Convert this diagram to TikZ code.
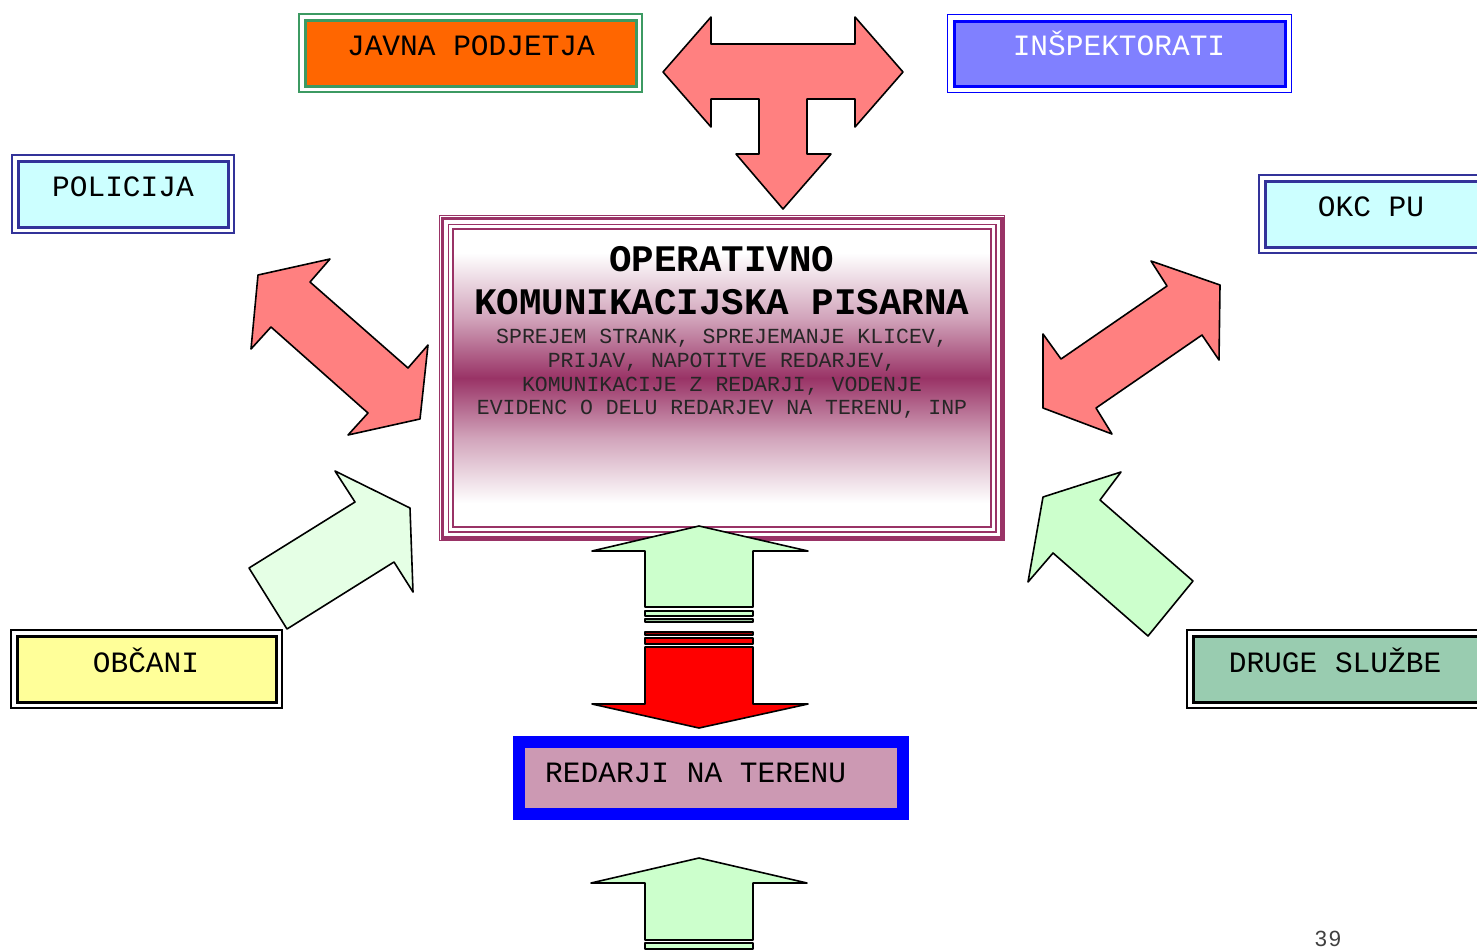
\documentclass[tikz,border=0pt]{standalone}
\usepackage{fontspec}
\newfontfamily\cour{Liberation Mono}
\newfontfamily\arl{Liberation Sans}
\definecolor{kmaroon}{HTML}{993366}
\definecolor{kgreenline}{HTML}{3C9A62}
\definecolor{korange}{HTML}{FF6600}
\definecolor{kblue}{HTML}{0000FF}
\definecolor{klav}{HTML}{8080FF}
\definecolor{knavy}{HTML}{333399}
\definecolor{kcyan}{HTML}{CCFFFF}
\definecolor{kyellow}{HTML}{FFFF99}
\definecolor{ksea}{HTML}{99CCB0}
\definecolor{kmauve}{HTML}{CC99B3}
\definecolor{kpink}{HTML}{FF8080}
\definecolor{kmint}{HTML}{CCFFCC}
\definecolor{kpale}{HTML}{E5FFE5}
\definecolor{kgraygreen}{HTML}{A0C8A0}
\definecolor{kdarkred}{HTML}{990000}
\pgfdeclareverticalshading{okpshade}{100bp}{color(0bp)=(white); color(29bp)=(white); color(40bp)=(kmaroon!45); color(50bp)=(kmaroon); color(60bp)=(kmaroon!45); color(71bp)=(white); color(100bp)=(white)}
\tikzset{
  boxnode/.style={draw, line width=3pt, inner sep=0pt, rectangle},
  outerline/.style={line width=1.8pt},
  boxtext/.style={font=\cour\fontsize{29.5}{30}\selectfont, inner sep=0pt, anchor=base},
  titletext/.style={font=\cour\bfseries\fontsize{37.5}{38}\selectfont, inner sep=0pt, anchor=base},
  smalltext/.style={font=\cour\fontsize{21.5}{22}\selectfont, inner sep=0pt, anchor=base, text=black!85},
  blockarrow/.style={draw=black, line width=1.6pt, line join=round},
}
\begin{document}
\begin{tikzpicture}[x=1pt,y=-1pt]
\useasboundingbox (0,0) rectangle (1477,951);
\clip (0,0) rectangle (1477,951);

% ---------- small boxes ----------
\node[boxnode, draw=kgreenline, fill=korange, minimum width=331pt, minimum height=66pt] (jp) at (470.5,53) {};
\draw[outerline, kgreenline] ([xshift=-4.5pt,yshift=4.5pt]jp.north west) rectangle ([xshift=4.5pt,yshift=-4.5pt]jp.south east);
\node[boxtext] (jpt) at (471,55) {JAVNA PODJETJA};

\node[boxnode, draw=kblue, fill=klav, minimum width=331pt, minimum height=65pt] (ins) at (1119.5,53.5) {};
\draw[outerline, kblue] ([xshift=-5pt,yshift=5pt]ins.north west) rectangle ([xshift=5pt,yshift=-5pt]ins.south east);
\node[boxtext, text=white] (inst) at (1119,55) {INŠPEKTORATI};

\node[boxnode, draw=knavy, fill=kcyan, minimum width=210pt, minimum height=66pt] (pol) at (123,194) {};
\draw[outerline, knavy] ([xshift=-4.5pt,yshift=4.5pt]pol.north west) rectangle ([xshift=4.5pt,yshift=-4.5pt]pol.south east);
\node[boxtext] (polt) at (123,196) {POLICIJA};

\node[boxnode, draw=knavy, fill=kcyan, minimum width=220pt, minimum height=66pt] (okc) at (1375,214) {};
\draw[outerline, knavy] ([xshift=-4.5pt,yshift=4.5pt]okc.north west) rectangle ([xshift=4.5pt,yshift=-4.5pt]okc.south east);
\node[boxtext] (okct) at (1371,216) {OKC PU};

\node[boxnode, draw=black, fill=kyellow, minimum width=259pt, minimum height=66pt] (obc) at (146.5,669) {};
\draw[outerline, black] ([xshift=-4.5pt,yshift=4.5pt]obc.north west) rectangle ([xshift=4.5pt,yshift=-4.5pt]obc.south east);
\node[boxtext] (obct) at (146,672) {OBČANI};

\node[boxnode, draw=black, fill=ksea, minimum width=292pt, minimum height=66pt] (drs) at (1339,669) {};
\draw[outerline, black] ([xshift=-4.5pt,yshift=4.5pt]drs.north west) rectangle ([xshift=4.5pt,yshift=-4.5pt]drs.south east);
\node[boxtext] (drst) at (1335,672) {DRUGE SLUŽBE};

\node[boxnode, draw=kblue, fill=kmauve, line width=12pt, minimum width=384pt, minimum height=72pt] (red) at (711,778) {};
\node[boxtext, anchor=base west] (redt) at (545,782) {REDARJI NA TERENU};

% ---------- central box ----------
\node[draw=kmaroon, line width=1.5pt, inner sep=0pt, rectangle, shading=okpshade,
      minimum width=538pt, minimum height=298pt] (okp) at (722,378) {};
\draw[kmaroon, line width=1.5pt] ([xshift=-4pt,yshift=4pt]okp.north west) rectangle ([xshift=4pt,yshift=-4pt]okp.south east);
\draw[kmaroon, line width=3.5pt] ([xshift=-10pt,yshift=10pt]okp.north west) rectangle ([xshift=10pt,yshift=-10pt]okp.south east);
\draw[kmaroon, line width=1.2pt] ([xshift=-13pt,yshift=13pt]okp.north west) rectangle ([xshift=13pt,yshift=-13pt]okp.south east);
\node[titletext] (t1) at (722,271.5) {OPERATIVNO};
\node[titletext] (t2) at (722,314) {KOMUNIKACIJSKA PISARNA};
\node[smalltext] (s1) at (722,343) {SPREJEM STRANK, SPREJEMANJE KLICEV,};
\node[smalltext] (s2) at (722,367) {PRIJAV, NAPOTITVE REDARJEV,};
\node[smalltext] (s3) at (722,391.5) {KOMUNIKACIJE Z REDARJI, VODENJE};
\node[smalltext] (s4) at (722,414) {EVIDENC O DELU REDARJEV NA TERENU, INP};

% ---------- top T arrow ----------
\draw[blockarrow, fill=kpink] (663,72) -- (711,17) -- (711,44) -- (855,44) -- (855,17) -- (903,72)
  -- (855,127) -- (855,99) -- (807,99) -- (807,154) -- (831,154) -- (783,209) -- (736,154)
  -- (759,154) -- (759,99) -- (711,99) -- (711,127) -- cycle;

% ---------- diagonal red arrows ----------
\draw[blockarrow, fill=kpink] (258,275) -- (330,259) -- (310,282) -- (408,368) -- (428,345)
  -- (420,419) -- (348,435) -- (368,413) -- (271,327) -- (251,349) -- cycle;
\draw[blockarrow, fill=kpink] (1151,261) -- (1220,285) -- (1219,360) -- (1202,335) -- (1096,408)
  -- (1112,434) -- (1043,408) -- (1043,334) -- (1061,359) -- (1167,286) -- cycle;

% ---------- diagonal green arrows ----------
\draw[blockarrow, fill=kpale] (335,471) -- (410,508) -- (413,592) -- (394,562) -- (287,629)
  -- (249,568) -- (355,502) -- cycle;
\draw[blockarrow, fill=kmint] (1121,472) -- (1100,500) -- (1193,581) -- (1148,636) -- (1053,553)
  -- (1028,582) -- (1043,497) -- cycle;

% ---------- vertical arrows ----------
\draw[blockarrow, fill=kmint] (699,526) -- (808,551) -- (753,551) -- (753,607) -- (645,607)
  -- (645,551) -- (592,551) -- cycle;
\draw[blockarrow, fill=kmint, line width=1.2pt] (645,611) rectangle (753,616);
\draw[blockarrow, fill=kgraygreen, line width=1.2pt] (645,619) rectangle (753,622);
\draw[blockarrow, fill=kdarkred, line width=1.2pt] (645,632) rectangle (753,635);
\draw[blockarrow, fill=red, line width=1.2pt] (645,638) rectangle (753,644);
\draw[blockarrow, fill=red] (645,647) -- (753,647) -- (753,704) -- (808,704) -- (699,728)
  -- (592,704) -- (645,704) -- cycle;

\draw[blockarrow, fill=kmint] (699,858) -- (807,883) -- (753,883) -- (753,940) -- (645,940)
  -- (645,883) -- (591,883) -- cycle;
\draw[blockarrow, fill=kmint, line width=1.2pt] (645,943) rectangle (753,949);

% ---------- page number ----------
\node[font=\arl\fontsize{22}{22}\selectfont, text=black!75, inner sep=0pt, anchor=base] (pg) at (1328,946) {3\kern2pt9};
\end{tikzpicture}
\end{document}
